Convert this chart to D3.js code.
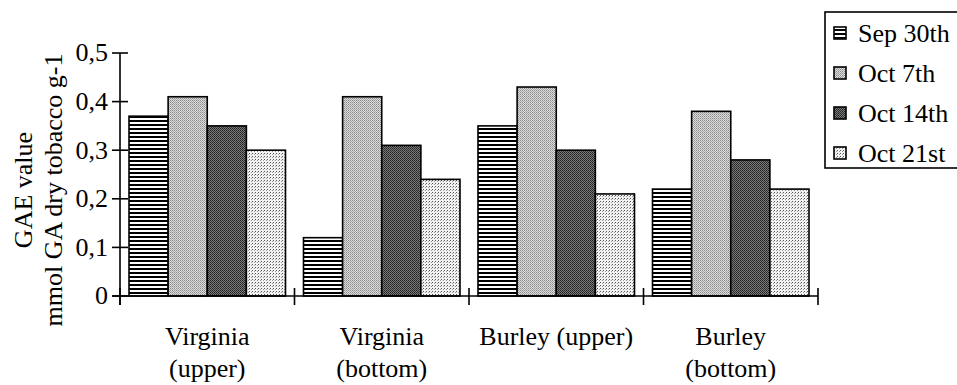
<!DOCTYPE html>
<html>
<head>
<meta charset="utf-8">
<script src="https://cdn.jsdelivr.net/npm/d3@7"></script>
<style>
  html, body { margin: 0; padding: 0; background: #fff; }
  svg { display: block; }
  text { font-family: "Liberation Serif", "Times New Roman", serif; fill: #000; }
</style>
</head>
<body>
<svg id="chart" width="957" height="385"></svg>
<script>
// Sample groups (two-line labels split by "\n")
const categories = ["Virginia\n(upper)", "Virginia\n(bottom)", "Burley (upper)", "Burley\n(bottom)"];
// Harvest dates
const seriesNames = ["Sep 30th", "Oct 7th", "Oct 14th", "Oct 21st"];
// GAE values per date, in category order
const sep30 = [0.37, 0.12, 0.35, 0.22];
const oct7  = [0.41, 0.41, 0.43, 0.38];
const oct14 = [0.35, 0.31, 0.30, 0.28];
const oct21 = [0.30, 0.24, 0.21, 0.22];
const yTicks = [0, 0.1, 0.2, 0.3, 0.4, 0.5];
const yTickLabels = ["0", "0,1", "0,2", "0,3", "0,4", "0,5"];
const yTitleLines = ["GAE value", "mmol GA dry tobacco g-1"];

const seriesValues = [sep30, oct7, oct14, oct21];
const patternIds = ["pat-stripe", "pat-light", "pat-dark", "pat-dots"];

const svg = d3.select("#chart");
const FONT = 26;

// ---- fill patterns ----
const defs = svg.append("defs");
// horizontal stripes
const p0 = defs.append("pattern").attr("id", patternIds[0])
  .attr("patternUnits", "userSpaceOnUse").attr("width", 4).attr("height", 4);
p0.append("rect").attr("width", 4).attr("height", 4).attr("fill", "#fff");
p0.append("rect").attr("width", 4).attr("height", 2).attr("fill", "#000");
// light grey fine dots
const p1 = defs.append("pattern").attr("id", patternIds[1])
  .attr("patternUnits", "userSpaceOnUse").attr("width", 2).attr("height", 2);
p1.append("rect").attr("width", 2).attr("height", 2).attr("fill", "#dcdcdc");
p1.append("rect").attr("width", 1).attr("height", 1).attr("fill", "#8a8a8a");
p1.append("rect").attr("x", 1).attr("y", 1).attr("width", 1).attr("height", 1).attr("fill", "#a8a8a8");
// dark grey fine dots
const p2 = defs.append("pattern").attr("id", patternIds[2])
  .attr("patternUnits", "userSpaceOnUse").attr("width", 2).attr("height", 2);
p2.append("rect").attr("width", 2).attr("height", 2).attr("fill", "#7a7a7a");
p2.append("rect").attr("width", 1).attr("height", 1).attr("fill", "#222");
p2.append("rect").attr("x", 1).attr("y", 1).attr("width", 1).attr("height", 1).attr("fill", "#333");
// sparse dots on white
const p3 = defs.append("pattern").attr("id", patternIds[3])
  .attr("patternUnits", "userSpaceOnUse").attr("width", 3).attr("height", 3);
p3.append("rect").attr("width", 3).attr("height", 3).attr("fill", "#f2f2f2");
p3.append("rect").attr("width", 1).attr("height", 1).attr("fill", "#555");
p3.append("rect").attr("x", 2).attr("y", 1).attr("width", 1).attr("height", 1).attr("fill", "#999");

// ---- scales ----
const plotLeft = 120, plotRight = 818, plotTop = 53, plotBottom = 296;
const x = d3.scaleBand().domain(d3.range(categories.length)).range([plotLeft, plotRight]).padding(0);
const xs = d3.scaleBand().domain(d3.range(seriesNames.length))
  .range([9, x.bandwidth() - 9]).padding(0);
const y = d3.scaleLinear().domain([0, 0.5]).range([plotBottom, plotTop]);

// ---- bars ----
const rows = [];
seriesValues.forEach((vals, s) => vals.forEach((v, c) => rows.push({ s, c, v })));
svg.append("g").selectAll("rect").data(rows).join("rect")
  .attr("x", d => x(d.c) + xs(d.s))
  .attr("y", d => y(d.v))
  .attr("width", xs.bandwidth())
  .attr("height", d => y(0) - y(d.v))
  .attr("fill", d => `url(#${patternIds[d.s]})`)
  .attr("stroke", "#000").attr("stroke-width", 1.6);

// ---- y axis ----
const yAxis = svg.append("g");
yAxis.append("line").attr("x1", plotLeft).attr("x2", plotLeft)
  .attr("y1", y(0.5)).attr("y2", y(0) + 9).attr("stroke", "#000").attr("stroke-width", 1.6);
yAxis.selectAll("line.tick").data(yTicks).join("line").attr("class", "tick")
  .attr("x1", plotLeft - 8).attr("x2", plotLeft + 8)
  .attr("y1", d => y(d)).attr("y2", d => y(d))
  .attr("stroke", "#000").attr("stroke-width", 1.6);
yAxis.selectAll("text").data(yTicks).join("text")
  .attr("x", 108).attr("y", d => y(d)).attr("dy", "0.32em")
  .attr("text-anchor", "end").attr("font-size", FONT)
  .text((d, i) => yTickLabels[i]);

// ---- x axis ----
const xAxis = svg.append("g");
xAxis.append("line").attr("x1", plotLeft - 8).attr("x2", plotRight)
  .attr("y1", y(0)).attr("y2", y(0)).attr("stroke", "#000").attr("stroke-width", 1.6);
const bounds = d3.range(categories.length + 1).map(i =>
  i < categories.length ? x(i) : x(categories.length - 1) + x.bandwidth());
xAxis.selectAll("line.tick").data(bounds).join("line").attr("class", "tick")
  .attr("x1", d => d).attr("x2", d => d)
  .attr("y1", y(0) - 8).attr("y2", y(0) + 9)
  .attr("stroke", "#000").attr("stroke-width", 1.6);
const catLabels = xAxis.selectAll("text").data(categories).join("text")
  .attr("text-anchor", "middle").attr("font-size", FONT)
  .attr("x", (d, i) => x(i) + x.bandwidth() / 2).attr("y", 345);
catLabels.each(function (d) {
  const t = d3.select(this);
  d.split("\n").forEach((line, k) => {
    t.append("tspan").attr("x", t.attr("x")).attr("y", 345 + k * 32).text(line);
  });
});

// ---- y title ----
const yTitle = svg.append("g");
yTitleLines.forEach((line, k) => {
  yTitle.append("text")
    .attr("transform", `translate(${32 + k * 30},190) rotate(-90)`)
    .attr("text-anchor", "middle").attr("font-size", FONT)
    .text(line);
});

// ---- legend ----
const legend = svg.append("g");
legend.append("rect").attr("x", 825).attr("y", 12).attr("width", 150).attr("height", 156)
  .attr("fill", "#fff").attr("stroke", "#000").attr("stroke-width", 1.6);
const items = legend.selectAll("g.item").data(seriesNames).join("g").attr("class", "item")
  .attr("transform", (d, i) => `translate(0,${33 + i * 40})`);
items.append("rect").attr("x", 834).attr("y", -6).attr("width", 12).attr("height", 12)
  .attr("fill", (d, i) => `url(#${patternIds[i]})`)
  .attr("stroke", "#000").attr("stroke-width", 1.6);
items.append("text").attr("x", 858).attr("y", 0).attr("dy", "0.33em")
  .attr("font-size", FONT).text(d => d);
</script>
</body>
</html>
